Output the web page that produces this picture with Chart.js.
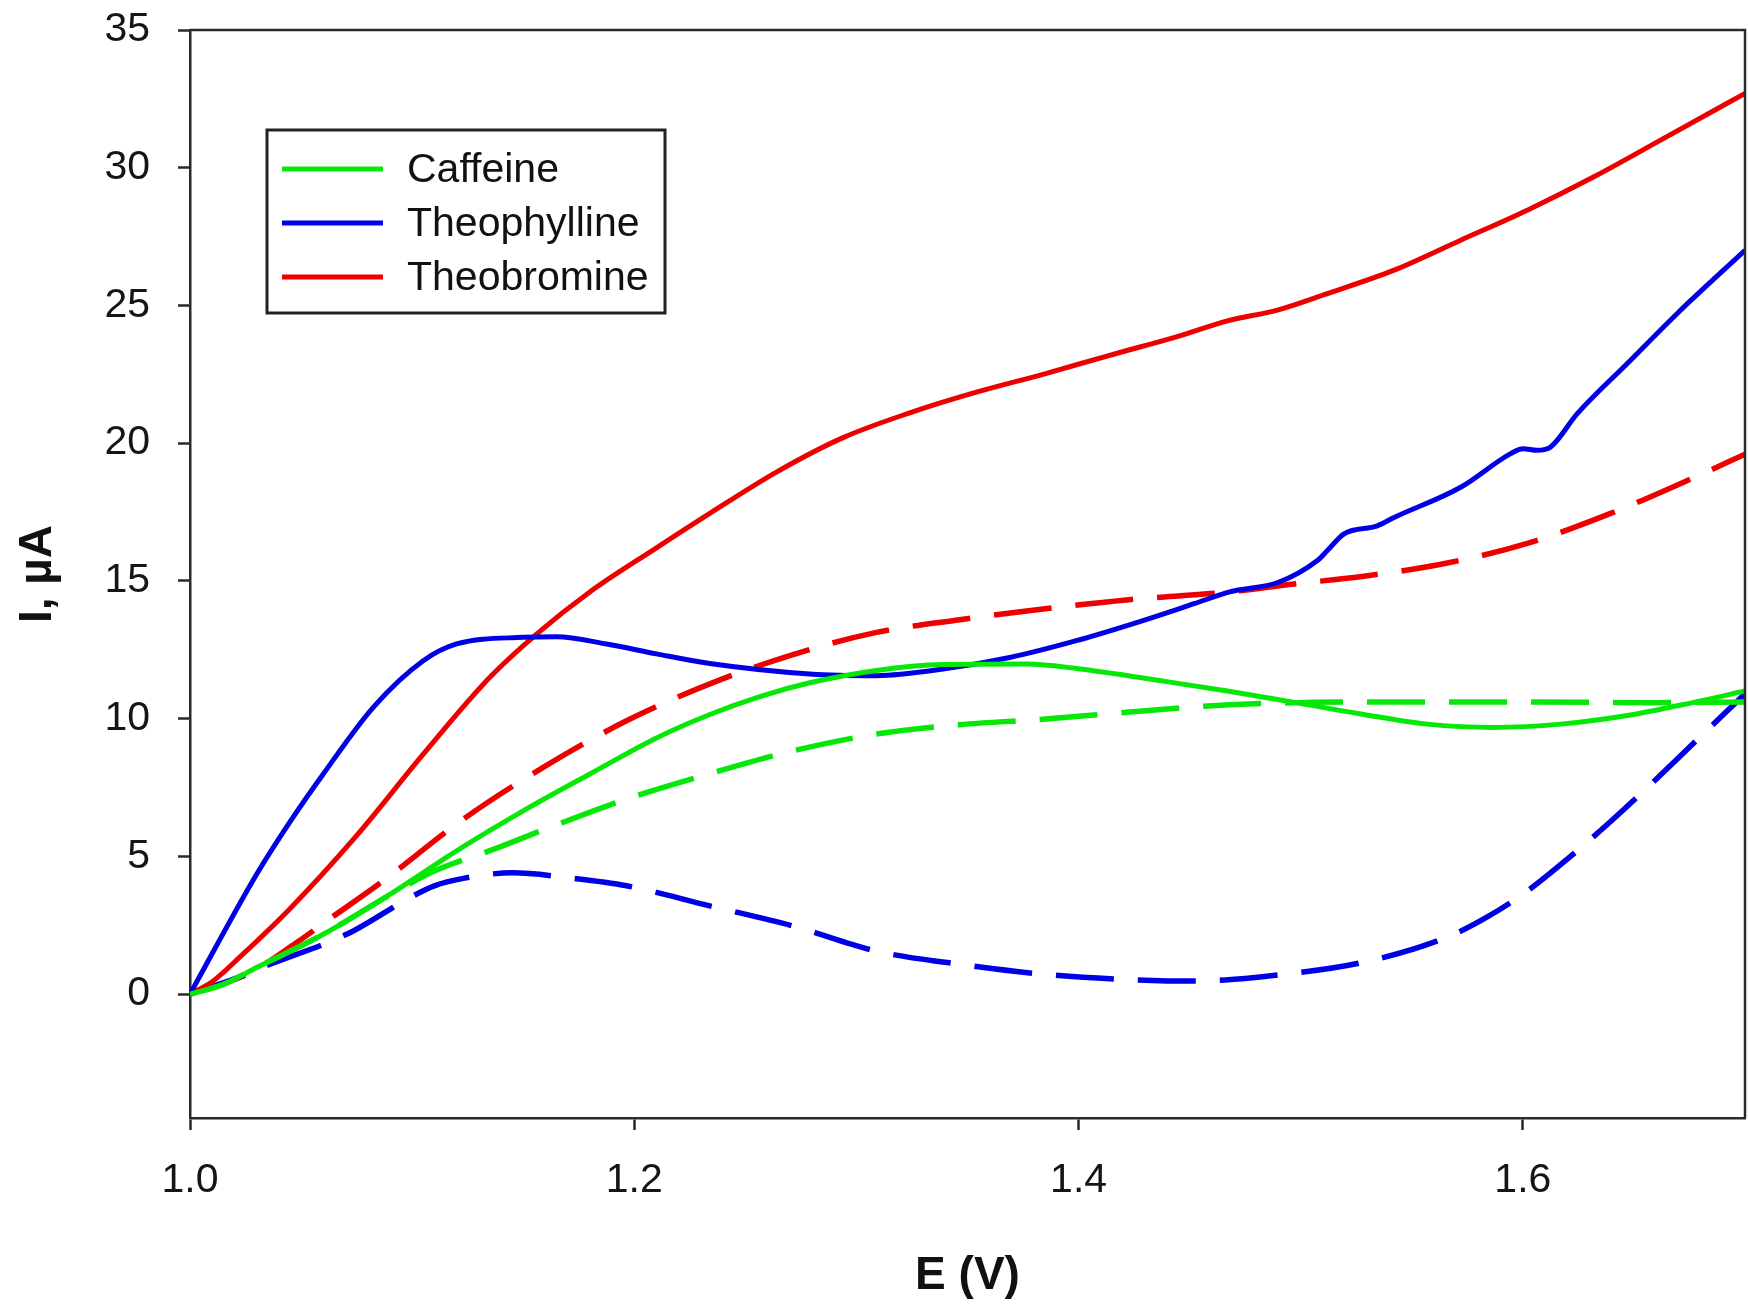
<!DOCTYPE html>
<html>
<head>
<meta charset="utf-8">
<script src="https://cdn.jsdelivr.net/npm/chart.js@4.4.1/dist/chart.umd.min.js"></script>
<style>
  html, body { margin: 0; padding: 0; background: #ffffff; }
  #wrap { width: 1748px; height: 1314px; }
</style>
</head>
<body>
<div id="wrap"><canvas id="c" width="1748" height="1314"></canvas></div>
<script>
// ---------- DATA ----------
const seriesNames = ['Caffeine', 'Theophylline', 'Theobromine'];
const xTicks = [1.0, 1.2, 1.4, 1.6];
const yTicks = [0, 5, 10, 15, 20, 25, 30, 35];

// Caffeine (solid)
const caffeineSolidE = [1.0, 1.015, 1.03, 1.06, 1.09, 1.12, 1.15, 1.18, 1.21, 1.234, 1.2565, 1.279, 1.309, 1.339, 1.376, 1.4065, 1.4365, 1.467, 1.497, 1.527, 1.557, 1.587, 1.617, 1.647, 1.677, 1.7];
const caffeineSolidI = [0, 0.35, 0.96, 2.17, 3.62, 5.2, 6.65, 7.99, 9.3, 10.15, 10.8, 11.3, 11.75, 11.96, 11.98, 11.74, 11.38, 11.0, 10.59, 10.17, 9.8, 9.68, 9.8, 10.11, 10.59, 11.0];
// Caffeine (dashed)
const caffeineDashE = [1.0, 1.015, 1.03, 1.06, 1.09, 1.111, 1.1365, 1.16, 1.1965, 1.234, 1.2715, 1.309, 1.3465, 1.384, 1.4215, 1.468, 1.527, 1.602, 1.66, 1.7];
const caffeineDashI = [0, 0.35, 0.96, 2.17, 3.6, 4.5, 5.25, 5.99, 7.08, 8.0, 8.83, 9.44, 9.78, 9.98, 10.23, 10.5, 10.6, 10.6, 10.58, 10.6];

// Theophylline (solid)
const theophyllineSolidE = [1.0, 1.03, 1.045, 1.06, 1.0825, 1.105, 1.12, 1.15, 1.165, 1.1875, 1.21, 1.234, 1.279, 1.309, 1.339, 1.369, 1.399, 1.429, 1.452, 1.468, 1.49, 1.5075, 1.512, 1.5195, 1.5345, 1.542, 1.572, 1.5945, 1.6, 1.6065, 1.6125, 1.6245, 1.647, 1.6695, 1.7];
const theophyllineSolidI = [0, 4.35, 6.25, 7.99, 10.41, 12.1, 12.71, 12.95, 12.97, 12.71, 12.35, 12.0, 11.62, 11.56, 11.8, 12.22, 12.83, 13.56, 14.17, 14.6, 14.95, 15.74, 16.1, 16.71, 17.0, 17.3, 18.4, 19.62, 19.8, 19.74, 19.86, 21.07, 22.89, 24.71, 27.0];
// Theophylline (dashed)
const theophyllineDashE = [1.0, 1.02, 1.036, 1.062, 1.0735, 1.099, 1.11, 1.123, 1.145, 1.1725, 1.1965, 1.234, 1.2715, 1.309, 1.3465, 1.384, 1.4215, 1.4515, 1.4925, 1.529, 1.566, 1.584, 1.602, 1.62, 1.64, 1.66, 1.68, 1.7];
const theophyllineDashI = [0, 0.55, 1.08, 1.87, 2.29, 3.5, 3.93, 4.2, 4.4, 4.2, 3.93, 3.2, 2.47, 1.56, 1.08, 0.72, 0.53, 0.47, 0.72, 1.17, 2.07, 2.8, 3.74, 4.9, 6.3, 7.8, 9.35, 10.9];

// Theobromine (solid)
const theobromineSolidE = [1.0, 1.01, 1.0225, 1.045, 1.075, 1.105, 1.135, 1.156, 1.18, 1.21, 1.234, 1.264, 1.294, 1.324, 1.354, 1.384, 1.414, 1.444, 1.4675, 1.4895, 1.512, 1.542, 1.572, 1.602, 1.632, 1.662, 1.7];
const theobromineSolidI = [0, 0.45, 1.35, 3.1, 5.75, 8.71, 11.5, 13.07, 14.6, 16.2, 17.45, 18.95, 20.2, 21.1, 21.85, 22.5, 23.19, 23.86, 24.45, 24.83, 25.43, 26.28, 27.37, 28.46, 29.67, 31.0, 32.7];
// Theobromine (dashed)
const theobromineDashE = [1.0, 1.0255, 1.048, 1.0615, 1.086, 1.123, 1.159, 1.1965, 1.234, 1.27, 1.309, 1.3465, 1.384, 1.4215, 1.468, 1.497, 1.5285, 1.566, 1.6028, 1.6395, 1.677, 1.7];
const theobromineDashI = [0, 0.71, 1.87, 2.65, 4.05, 6.35, 8.23, 9.92, 11.26, 12.29, 13.13, 13.59, 13.98, 14.31, 14.6, 14.89, 15.17, 15.65, 16.38, 17.45, 18.75, 19.6];

// ---------- STYLE ----------
const GREEN = '#08e808';
const BLUE = '#0000e6';
const RED = '#ee0000';
const FONT = "'Liberation Sans', Arial, Helvetica, sans-serif";
const DASH = [58, 24];

function pts(E, I) { return E.map((e, i) => ({ x: e, y: I[i] })); }

function ds(label, E, I, color, dashed) {
  return {
    label: label,
    data: pts(E, I),
    borderColor: color,
    backgroundColor: color,
    borderWidth: dashed ? 5.5 : 5,
    borderDash: dashed ? DASH : [],
    pointRadius: 0,
    fill: false,
    cubicInterpolationMode: 'monotone',
    borderCapStyle: 'butt',
    inLegend: !dashed
  };
}

const datasets = [
  ds(seriesNames[0], caffeineSolidE, caffeineSolidI, GREEN, false),
  ds(seriesNames[1], theophyllineSolidE, theophyllineSolidI, BLUE, false),
  ds(seriesNames[2], theobromineSolidE, theobromineSolidI, RED, false),
  ds(seriesNames[0] + ' (dashed)', caffeineDashE, caffeineDashI, GREEN, true),
  ds(seriesNames[1] + ' (dashed)', theophyllineDashE, theophyllineDashI, BLUE, true),
  ds(seriesNames[2] + ' (dashed)', theobromineDashE, theobromineDashI, RED, true)
];

const framePlugin = {
  id: 'frame',
  afterDatasetsDraw(chart) {
    const a = chart.chartArea, ctx = chart.ctx;
    ctx.save();
    ctx.strokeStyle = '#2a2a2a';
    ctx.lineWidth = 2.5;
    ctx.beginPath();
    ctx.moveTo(a.left, a.top);
    ctx.lineTo(a.right, a.top);
    ctx.lineTo(a.right, a.bottom);
    ctx.stroke();
    ctx.restore();
  }
};

const boxLegendPlugin = {
  id: 'boxLegend',
  afterDraw(chart) {
    const a = chart.chartArea, ctx = chart.ctx;
    const x0 = a.left + 77, y0 = a.top + 100, w = 398, h = 183;
    ctx.save();
    ctx.fillStyle = '#ffffff';
    ctx.fillRect(x0, y0, w, h);
    ctx.strokeStyle = '#222222';
    ctx.lineWidth = 3;
    ctx.strokeRect(x0, y0, w, h);
    const items = chart.data.datasets.filter(d => d.inLegend);
    items.forEach((d, i) => {
      const y = y0 + 39 + i * 54;
      ctx.strokeStyle = d.borderColor;
      ctx.lineWidth = 5;
      ctx.setLineDash([]);
      ctx.beginPath();
      ctx.moveTo(x0 + 15, y);
      ctx.lineTo(x0 + 116, y);
      ctx.stroke();
      ctx.fillStyle = '#111111';
      ctx.font = '41px ' + FONT;
      ctx.textAlign = 'left';
      ctx.textBaseline = 'middle';
      ctx.fillText(d.label, x0 + 140, y + 2);
    });
    ctx.restore();
  }
};

new Chart(document.getElementById('c'), {
  type: 'line',
  data: { datasets: datasets },
  options: {
    responsive: false,
    animation: false,
    devicePixelRatio: 1,
    layout: { padding: { top: 30, right: 3, left: 0, bottom: 0 } },
    plugins: {
      legend: { display: false },
      tooltip: { enabled: false },
      title: { display: false }
    },
    scales: {
      x: {
        type: 'linear',
        position: 'bottom',
        min: 1.0,
        max: 1.7,
        afterFit(scale) { scale.height = 196; scale.paddingRight = 0; },
        afterBuildTicks(scale) { scale.ticks = xTicks.map(v => ({ value: v })); },
        ticks: {
          autoSkip: false,
          maxRotation: 0,
          padding: 26,
          color: '#151515',
          font: { family: FONT, size: 41 },
          callback: (v) => Number(v).toFixed(1)
        },
        grid: { drawOnChartArea: false, drawTicks: true, tickLength: 12, tickWidth: 2.5, tickColor: '#2a2a2a' },
        border: { display: true, color: '#2a2a2a', width: 2.5 },
        title: {
          display: true,
          text: 'E (V)',
          color: '#111111',
          font: { family: FONT, size: 46, weight: 'bold' },
          padding: { top: 0, bottom: 10 }
        }
      },
      y: {
        type: 'linear',
        position: 'left',
        min: -4.5,
        max: 35,
        afterFit(scale) { scale.width = 190; scale.paddingTop = 0; scale.paddingBottom = 0; },
        afterBuildTicks(scale) { scale.ticks = yTicks.map(v => ({ value: v })); },
        ticks: {
          autoSkip: false,
          padding: 28,
          color: '#151515',
          font: { family: FONT, size: 41 },
          callback: (v) => String(v)
        },
        grid: { drawOnChartArea: false, drawTicks: true, tickLength: 12, tickWidth: 2.5, tickColor: '#2a2a2a' },
        border: { display: true, color: '#2a2a2a', width: 2.5 },
        title: {
          display: true,
          text: 'I, µA',
          color: '#111111',
          font: { family: FONT, size: 46, weight: 'bold' },
          padding: { top: 11, bottom: 0 }
        }
      }
    }
  },
  plugins: [framePlugin, boxLegendPlugin]
});
</script>
</body>
</html>
